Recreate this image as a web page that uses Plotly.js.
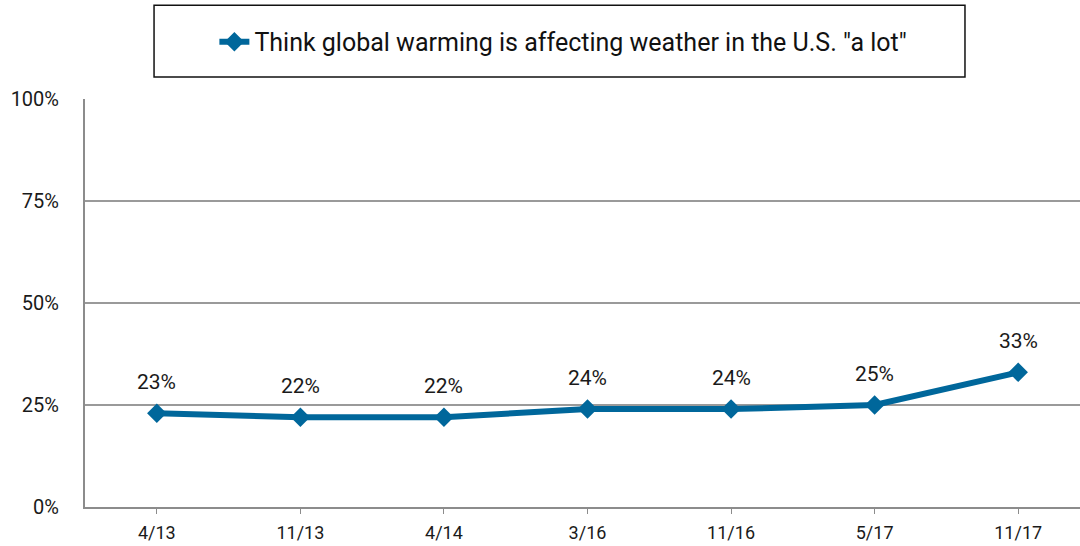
<!DOCTYPE html>
<html>
<head>
<meta charset="utf-8">
<script src="https://cdn.plot.ly/plotly-3.0.1.min.js"></script>
<style>
html,body{margin:0;padding:0;overflow:hidden;background:#fff;width:1080px;height:546px;}
#chart{width:1090px;height:546px;}
</style>
</head>
<body>
<div id="chart"></div>
<script>
var categories = ["4/13", "11/13", "4/14", "3/16", "11/16", "5/17", "11/17"];
var values = [23, 22, 22, 24, 24, 25, 33];
var seriesName = 'Think global warming is affecting weather in the U.S. "a lot"';
var yTicks = [0, 25, 50, 75, 100];
var yTickLabels = ["0%", "25%", "50%", "75%", "100%"];

var trace = {
  x: categories,
  y: values,
  name: seriesName,
  type: 'scatter',
  mode: 'lines+markers',
  line: {color: '#00679B', width: 6},
  marker: {symbol: 'diamond', size: 15, color: '#00679B'},
  cliponaxis: false,
  hoverinfo: 'skip'
};

var annotations = categories.map(function(c, i){
  return {
    x: c, y: values[i], xref: 'x', yref: 'y',
    text: values[i] + '%',
    showarrow: false,
    yshift: 31,
    font: {family: 'Roboto, sans-serif', size: 21, color: '#1a1a1a'}
  };
});

var layout = {
  width: 1090,
  height: 546,
  margin: {l: 85, r: 0, t: 99, b: 39},
  paper_bgcolor: '#fff',
  plot_bgcolor: '#fff',
  font: {family: 'Roboto, sans-serif', size: 16, color: '#222'},
  showlegend: true,
  legend: {
    x: 0.476, xanchor: 'center',
    y: 1.14, yanchor: 'middle',
    orientation: 'h',
    font: {family: 'Roboto, sans-serif', size: 25, color: '#111'},
    bgcolor: 'rgba(0,0,0,0)',
    borderwidth: 0
  },
  xaxis: {
    type: 'category',
    range: [-0.5, 6.5],
    showgrid: false,
    showline: true,
    linecolor: '#8c8c8c',
    linewidth: 2,
    ticks: 'outside',
    ticklen: 5,
    tickwidth: 1,
    tickcolor: '#8c8c8c',
    ticklabelstandoff: 3,
    tickfont: {family: 'Roboto, sans-serif', size: 18, color: '#1a1a1a'},
    zeroline: false,
    fixedrange: true
  },
  yaxis: {
    range: [0, 100],
    tickvals: yTicks,
    ticktext: yTickLabels,
    showgrid: true,
    gridcolor: '#9a9a9a',
    gridwidth: 1.5,
    showline: true,
    linecolor: '#8c8c8c',
    linewidth: 2,
    ticks: '',
    ticklabelstandoff: 20,
    tickfont: {family: 'Roboto, sans-serif', size: 20, color: '#1a1a1a'},
    zeroline: false,
    fixedrange: true
  },
  annotations: annotations,
  shapes: [{
    type: 'rect', xref: 'paper', yref: 'paper',
    x0: 0.0687, x1: 0.8756, y0: 1.054, y1: 1.230,
    line: {color: '#111', width: 1.5},
    fillcolor: 'rgba(0,0,0,0)',
    layer: 'above'
  }]
};

Plotly.newPlot('chart', [trace], layout, {displayModeBar: false, staticPlot: true});
</script>
</body>
</html>
